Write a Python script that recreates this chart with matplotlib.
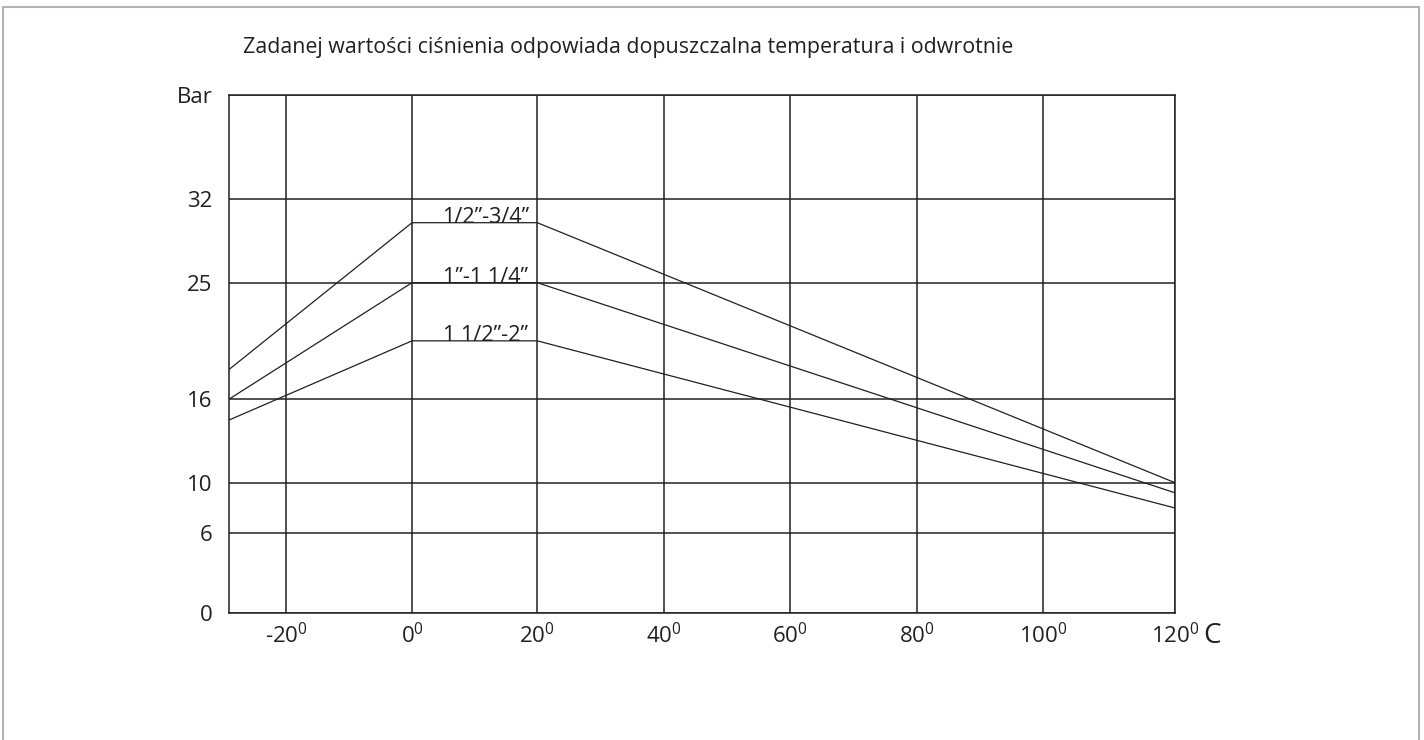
import numpy as np
import matplotlib.pyplot as plt
from matplotlib.patches import Rectangle

plt.rcParams['font.family'] = ['Open Sans', 'DejaVu Sans']

# dane z wykresu
title = "Zadanej wartości ciśnienia odpowiada dopuszczalna temperatura i odwrotnie"
temps = [-29, 0, 20, 120]
p_half = [18.3, 30, 30, 10]      # 1/2"-3/4"
p_one = [16, 25, 25, 9.2]        # 1"-1 1/4"
p_onehalf = [14.5, 20.5, 20.5, 8]  # 1 1/2"-2"
series_labels = ["1/2”-3/4”", "1”-1 1/4”", "1 1/2”-2”"]
label_levels = [30, 25, 20.5]

x_ticks = [-20, 0, 20, 40, 60, 80, 100, 120]
y_ticks = [0, 6, 10, 16, 25, 32, 40]
y_ticklabels = ["0", "6", "10", "16", "25", "32", "Bar"]

# siatka na oryginale nie jest rowna - skala odcinkami liniowa
x_anchor = [-29, -20, 0, 20, 40, 60, 80, 100, 120]
x_pos = [0, 56.7, 182.7, 308, 434.7, 561, 687.4, 814, 945.7]
y_anchor = [0, 6, 10, 16, 25, 32, 40]
y_pos = [0, 80, 130.6, 214.3, 330.6, 414.6, 518]


def make_scale(vals, pos):
    vals = np.asarray(vals, float)
    pos = np.asarray(pos, float)
    s0 = (pos[1] - pos[0]) / (vals[1] - vals[0])
    s1 = (pos[-1] - pos[-2]) / (vals[-1] - vals[-2])
    v = np.concatenate([[vals[0] - 1000], vals, [vals[-1] + 1000]])
    p = np.concatenate([[pos[0] - 1000 * s0], pos, [pos[-1] + 1000 * s1]])

    def fwd(a):
        return np.interp(a, v, p)

    def inv(a):
        return np.interp(a, p, v)
    return fwd, inv


W, H = 1424, 740
fig = plt.figure(figsize=(W / 100, H / 100), dpi=100)
ax = fig.add_axes([229.3 / W, 1 - 613.3 / H, (1175 - 229.3) / W, (613.3 - 95.3) / H])

ax.set_xscale('function', functions=make_scale(x_anchor, x_pos))
ax.set_yscale('function', functions=make_scale(y_anchor, y_pos))
ax.set_xlim(-29, 120)
ax.set_ylim(0, 40)

ink = '#231f20'
for v in x_ticks:
    ax.axvline(v, color=ink, lw=1.1, zorder=1)
for v in y_ticks:
    ax.axhline(v, color=ink, lw=1.1, zorder=1)

for vals in (p_half, p_one, p_onehalf):
    ax.plot(temps, vals, color=ink, lw=0.9, zorder=2)

for lab, lev in zip(series_labels, label_levels):
    ax.text(11.7, lev, lab, ha='center', va='baseline', fontsize=15.6, color=ink, zorder=3)

ax.set_xticks(x_ticks)
ax.set_xticklabels([f"{v}" + r"$^{\mathregular{0}}$" for v in x_ticks])
ax.set_yticks(y_ticks)
ax.set_yticklabels(y_ticklabels)
ax.tick_params(length=0, labelsize=16, colors=ink)
ax.tick_params(axis='x', pad=7)
ax.tick_params(axis='y', pad=12)
ax.minorticks_off()
for sp in ax.spines.values():
    sp.set_color(ink)
    sp.set_linewidth(1.1)

# duze C przy 120
ax.annotate("C", xy=(120, 0), xycoords=('data', 'axes fraction'),
            xytext=(20, -6), textcoords='offset points',
            ha='left', va='top', fontsize=20, color=ink)

fig.text(243 / W, 1 - 53 / H, title, ha='left', va='baseline', fontsize=15.4, color=ink)

fig.patches.append(Rectangle((3 / W, -0.05), (1419 - 3) / W, 1.05 - 7 / H,
                             transform=fig.transFigure, fill=False,
                             edgecolor='#b3b3b3', lw=1.5))

fig.savefig('out.png', dpi=100)
